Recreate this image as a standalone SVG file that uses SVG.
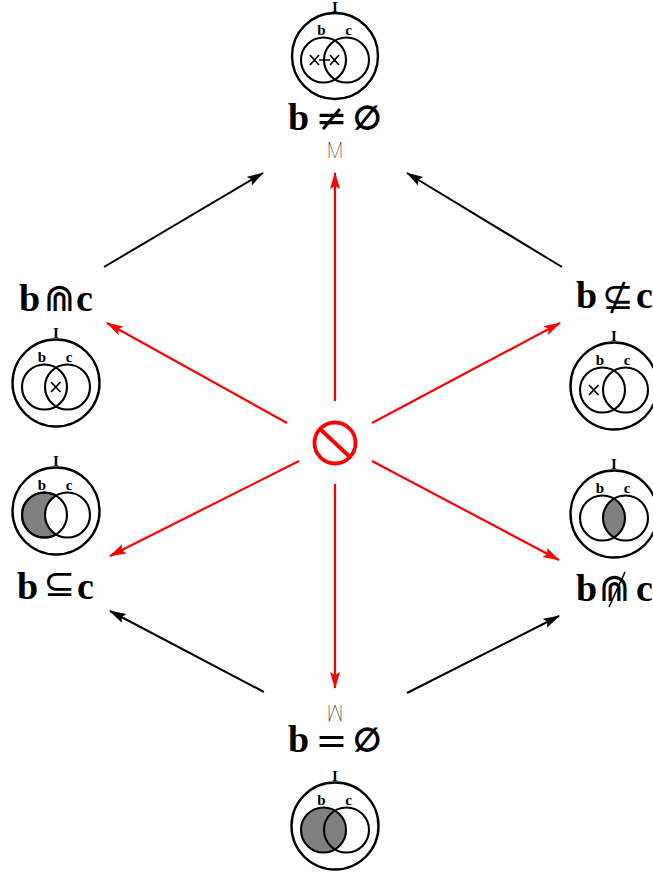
<svg xmlns="http://www.w3.org/2000/svg" width="653" height="872" viewBox="0 0 653 872">
<style>
.o{fill:none;stroke:#000;stroke-width:2.400}
.v{fill:none;stroke:#000;stroke-width:2.100}
.t{font-family:"Liberation Serif",serif;font-weight:bold;font-size:15px;text-anchor:middle;fill:#000}
.l{font-family:"Liberation Serif",serif;font-weight:bold;font-size:38px;fill:#000}
.s{font-family:"DejaVu Sans",sans-serif;font-weight:normal;font-size:38px;text-anchor:middle;fill:#000}
.e{font-family:"DejaVu Sans",sans-serif;font-weight:normal;font-size:32px;text-anchor:middle;fill:#000;stroke:#000;stroke-width:1.400}
.m{font-family:"Roboto","Noto Sans",sans-serif;font-weight:100;font-size:22px;text-anchor:middle;fill:#000}
.x{stroke:#000;stroke-width:1.700;fill:none}
.b{stroke:#000;stroke-width:2;fill:none}
.r{stroke:#f00;stroke-width:2.200;fill:none}
</style>
<defs>
<marker id="ab" markerWidth="18" markerHeight="12" refX="16" refY="5" orient="auto" markerUnits="userSpaceOnUse"><path d="M0 0L17 5L0 10L3 5Z" fill="#000"/></marker>
<marker id="ar" markerWidth="18" markerHeight="12" refX="16" refY="5" orient="auto" markerUnits="userSpaceOnUse"><path d="M0 0L17 5L0 10L3 5Z" fill="#f00"/></marker>
<clipPath id="cb"><circle cx="-11.500" cy="4" r="22.500"/></clipPath>
</defs>
<g id="connectors">
<line class="b" x1="104" y1="267" x2="263" y2="173" marker-end="url(#ab)"/>
<line class="b" x1="562" y1="267" x2="407" y2="173" marker-end="url(#ab)"/>
<line class="b" x1="264" y1="692" x2="110" y2="611" marker-end="url(#ab)"/>
<line class="b" x1="407" y1="693" x2="559" y2="616" marker-end="url(#ab)"/>
<line class="r" x1="335" y1="401" x2="335" y2="173" marker-end="url(#ar)"/>
<line class="r" x1="335" y1="484" x2="335" y2="688" marker-end="url(#ar)"/>
<line class="r" x1="287" y1="423" x2="107" y2="323" marker-end="url(#ar)"/>
<line class="r" x1="372" y1="423" x2="560" y2="323" marker-end="url(#ar)"/>
<line class="r" x1="299" y1="461" x2="110" y2="556" marker-end="url(#ar)"/>
<line class="r" x1="372" y1="461" x2="559" y2="560" marker-end="url(#ar)"/>
</g>
<g id="n-center">
<circle cx="335" cy="443" r="20.500" fill="none" stroke="#f00" stroke-width="3.800"/>
<line x1="319" y1="428" x2="351" y2="458" stroke="#f00" stroke-width="3.800"/>
</g>
<g id="n-top">
<g transform="translate(335 56)">
<circle class="o" r="43"/>
<circle class="v" cx="-11.500" cy="4" r="22.500"/><circle class="v" cx="11.500" cy="4" r="22.500"/>
<path class="x" d="M-25 -1l9 10m0 -10l-9 10M-5 -1l9 10m0 -10l-9 10M-16 4H-5"/>
<text class="t" x="0" y="-44">I</text><text class="t" x="-13.500" y="-21">b</text><text class="t" x="13.500" y="-21">c</text>
</g>
<text class="l" x="288" y="130">b</text><text class="s" x="331.500" y="131">≠</text><text class="e" x="367.500" y="129">∅</text>
<text class="m" transform="translate(335 158) scale(0.85 1)" x="0" y="0">M</text>
</g>
<g id="n-left-upper">
<text class="l" x="19" y="311">b</text><text class="s" x="59.500" y="311">⋒</text><text class="l" x="76" y="311">c</text>
<g transform="translate(56 383)">
<circle class="o" r="43.500"/>
<circle class="v" cx="-11.500" cy="4" r="22.500"/><circle class="v" cx="11.500" cy="4" r="22.500"/>
<path class="x" d="M-5 -1l9.500 10m0 -10l-9.500 10"/>
<text class="t" x="0" y="-45">I</text><text class="t" x="-14" y="-21">b</text><text class="t" x="13" y="-21">c</text>
</g>
</g>
<g id="n-left-lower">
<g transform="translate(56 511)">
<circle class="o" r="43.500"/>
<circle class="v" cx="-11.500" cy="4" r="22.500" style="fill:#808080"/><circle class="v" cx="11.500" cy="4" r="22.500" style="fill:#fff"/>
<circle class="v" cx="-11.500" cy="4" r="22.500"/>
<text class="t" x="0" y="-45">I</text><text class="t" x="-14" y="-21">b</text><text class="t" x="13" y="-21">c</text>
</g>
<text class="l" x="17" y="599">b</text><text class="s" x="59.500" y="596">⊆</text><text class="l" x="77" y="599">c</text>
</g>
<g id="n-right-upper">
<text class="l" x="576" y="308">b</text><text class="s" x="618" y="309">⊈</text><text class="l" x="636" y="308">c</text>
<g transform="translate(614 386)">
<circle class="o" r="43.500"/>
<circle class="v" cx="-11.500" cy="4" r="22.500"/><circle class="v" cx="11.500" cy="4" r="22.500"/>
<path class="x" d="M-25 -1l9.500 10m0 -10l-9.500 10"/>
<text class="t" x="0" y="-45">I</text><text class="t" x="-14" y="-21">b</text><text class="t" x="13" y="-21">c</text>
</g>
</g>
<g id="n-right-lower">
<g transform="translate(614 514)">
<circle class="o" r="43.500"/>
<circle cx="11.500" cy="4" r="22.500" fill="#808080" clip-path="url(#cb)"/>
<circle class="v" cx="-11.500" cy="4" r="22.500"/><circle class="v" cx="11.500" cy="4" r="22.500"/>
<text class="t" x="0" y="-45">I</text><text class="t" x="-14" y="-21">b</text><text class="t" x="13" y="-21">c</text>
</g>
<text class="l" x="576" y="601">b</text><text class="s" x="614.500" y="601">⋒</text><line x1="609" y1="607" x2="625" y2="572" stroke="#000" stroke-width="1.600"/><text class="l" x="636" y="601">c</text>
</g>
<g id="n-bottom">
<text class="m" transform="translate(335 705) scale(0.85 -1)" x="0" y="0">M</text>
<text class="l" x="288" y="752">b</text><text class="s" x="331.500" y="753">=</text><text class="e" x="367.500" y="751">∅</text>
<g transform="translate(335 826)">
<circle class="o" r="43.500"/>
<circle cx="-11.500" cy="4" r="22.500" fill="#808080"/>
<circle class="v" cx="-11.500" cy="4" r="22.500"/><circle class="v" cx="11.500" cy="4" r="22.500"/>
<text class="t" x="0" y="-45">I</text><text class="t" x="-13.500" y="-21">b</text><text class="t" x="13.500" y="-21">c</text>
</g>
</g>
</svg>
